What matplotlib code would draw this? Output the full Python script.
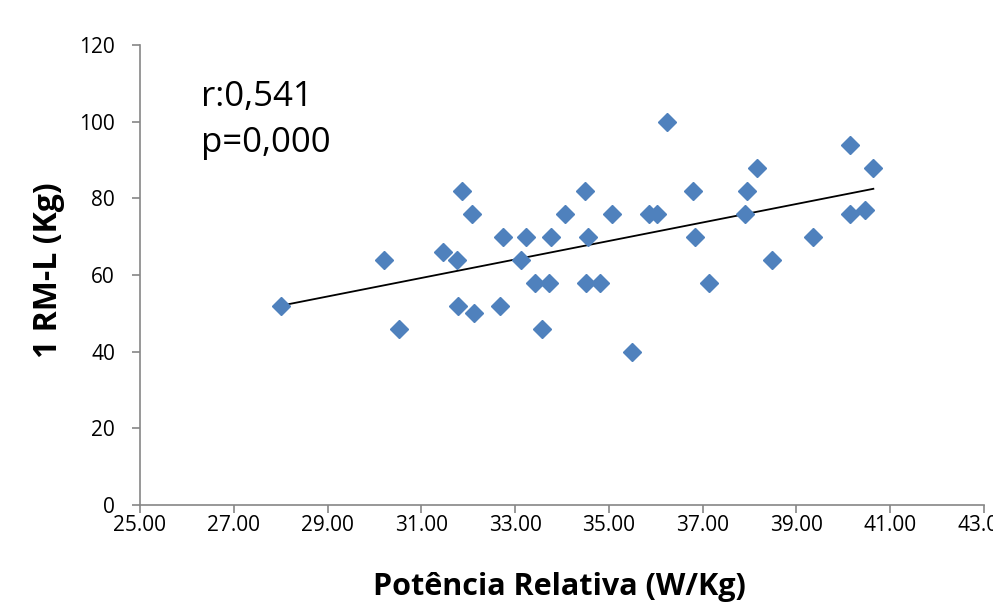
import numpy as np
import matplotlib.pyplot as plt

# Potência Relativa (W/Kg) vs 1 RM-L (Kg)
pot = [28.00, 30.21, 30.53, 31.47, 31.77, 31.87, 31.79, 32.09, 32.13, 32.68,
       32.74, 33.13, 33.23, 33.43, 33.57, 33.72, 33.77, 34.06, 34.49, 34.55,
       34.51, 34.81, 35.06, 35.49, 35.85, 36.02, 36.23, 36.79, 36.83, 37.13,
       37.91, 37.94, 38.15, 38.47, 39.36, 40.15, 40.15, 40.47, 40.64]
rm = [52, 64, 46, 66, 64, 82, 52, 76, 50, 52,
      70, 64, 70, 58, 46, 58, 70, 76, 82, 70,
      58, 58, 76, 40, 76, 76, 100, 82, 70, 58,
      76, 82, 88, 64, 70, 94, 76, 77, 88]

xticks = np.arange(25, 43.01, 2)
yticks = np.arange(0, 121, 20)

fig = plt.figure(figsize=(9.93, 6.05), dpi=100)
ax = fig.add_axes([140/993, 1 - 505/605, (984 - 140)/993, (505 - 45)/605])

ax.plot(pot, rm, 'D', color='#4F81BD', ms=9.5, mec='#4F81BD', zorder=3)

# linear trendline over the data range
a, b = np.polyfit(pot, rm, 1)
xl = np.array([min(pot), max(pot)])
ax.plot(xl, a * xl + b, color='black', lw=1.3, zorder=2)

ax.set_xlim(25, 43)
ax.set_ylim(0, 120)
ax.set_xticks(xticks)
ax.set_xticklabels(['%.2f' % t for t in xticks])
ax.set_yticks(yticks)

for s in ['top', 'right']:
    ax.spines[s].set_visible(False)
for s in ['left', 'bottom']:
    ax.spines[s].set_color('#868686')
    ax.spines[s].set_linewidth(1.2)
ax.tick_params(axis='both', colors='#868686', labelcolor='black', length=6, width=1.2,
               labelsize=15)
for lab in ax.get_xticklabels() + ax.get_yticklabels():
    lab.set_family('Open Sans')
ax.tick_params(axis='x', pad=1)
ax.tick_params(axis='y', pad=12)

fig.text(559/993, 1 - 595/605, 'Potência Relativa (W/Kg)', fontsize=22,
         fontweight='bold', family='Open Sans', ha='center', va='baseline')
fig.text(48.5/993, 1 - 270/605, '1 RM-L (Kg)', fontsize=23, fontweight='bold',
         family='Open Sans', rotation=90, ha='center', va='center')

ax.text(26.3, 104.1, 'r:0,541', fontsize=25, family='Open Sans', va='baseline', ha='left')
ax.text(26.3, 92.0, 'p=0,000', fontsize=25, family='Open Sans', va='baseline', ha='left')

fig.savefig('out.png', dpi=100)
